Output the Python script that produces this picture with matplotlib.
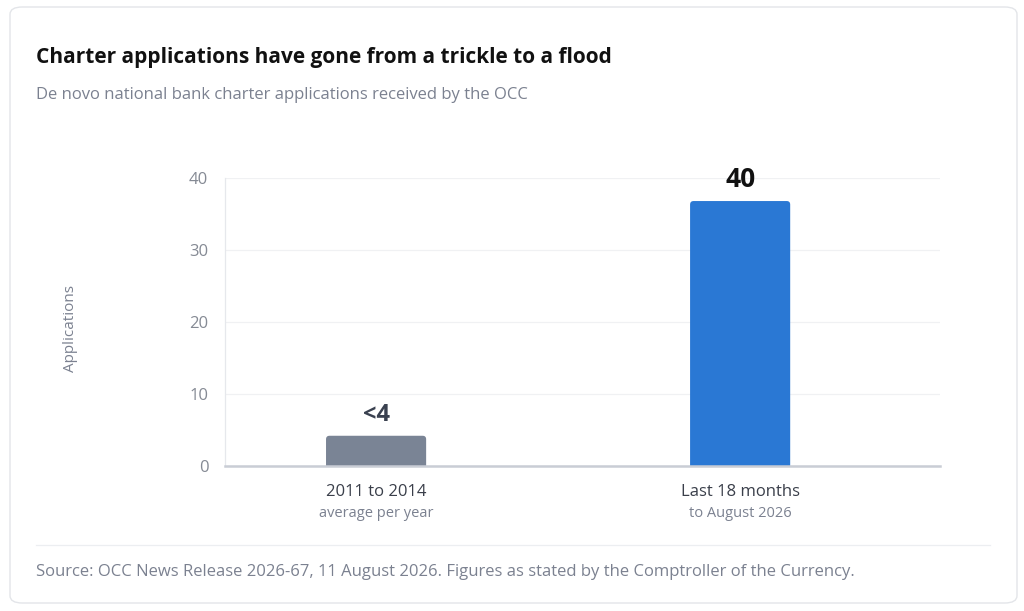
import matplotlib
matplotlib.use("Agg")
import matplotlib.pyplot as plt
from matplotlib.patches import FancyBboxPatch
from matplotlib.lines import Line2D

plt.rcParams['font.family'] = ['Open Sans', 'DejaVu Sans']

# data
categories = ['2011 to 2014', 'Last 18 months']
subtitles = ['average per year', 'to August 2026']
values = [4.2, 36.8]
value_labels = ['<4', '40']
bar_colors = ['#7a8495', '#2a78d4']
label_colors = ['#3a4150', '#111111']
label_sizes = [17, 19]
yticks = [0, 10, 20, 30, 40]

W, H = 1024, 611
fig = plt.figure(figsize=(W / 100, H / 100), dpi=100)
fig.patch.set_facecolor('white')

# card
card = FancyBboxPatch((10 / W, 8 / H), 1007 / W, 596 / H,
                      boxstyle="round,pad=0,rounding_size=0.012",
                      transform=fig.transFigure, facecolor='white',
                      edgecolor='#e3e5e9', linewidth=1.0, zorder=-10)
fig.patches.append(card)

fig.text(36 / W, 1 - 58 / H, 'Charter applications have gone from a trickle to a flood',
         fontsize=15, fontweight='bold', color='#111111', va='center', ha='left')
fig.text(36 / W, 1 - 95 / H, 'De novo national bank charter applications received by the OCC',
         fontsize=12, color='#7b8190', va='center', ha='left')

ax = fig.add_axes([225 / W, 1 - 466 / H, (940 - 225) / W, (466 - 178) / H])
ax.set_facecolor('none')
x = list(range(len(categories)))
bars = ax.bar(x, values, width=0.275, color=bar_colors, zorder=3)

ax.set_ylim(0, 40)
ax.set_xlim(-0.415, 1.549)

# rounded tops: redraw each bar as a rounded box with the same geometry
px_x = (1.549 + 0.415) / (940 - 225)
px_y = 40 / (466 - 178)
for b, col in zip(bars, bar_colors):
    b.set_visible(False)
    rb = FancyBboxPatch((b.get_x(), -1), b.get_width(), b.get_height() + 1,
                        boxstyle=f"round,pad=0,rounding_size={3.5 * px_x}",
                        mutation_aspect=px_y / px_x,
                        facecolor=col, edgecolor='none', zorder=3)
    ax.add_patch(rb)

ax.set_yticks(yticks)
ax.set_yticklabels([str(t) for t in yticks])
ax.tick_params(axis='y', length=0, pad=12, labelsize=12, labelcolor='#858a94')
ax.set_xticks(x)
ax.set_xticklabels([])
ax.tick_params(axis='x', length=0)
ax.grid(axis='y', color='#f0f1f3', linewidth=0.9, zorder=0)

for s in ['top', 'right']:
    ax.spines[s].set_visible(False)
ax.spines['left'].set_color('#e6e8ec')
ax.spines['left'].set_linewidth(0.9)
ax.spines['bottom'].set_color('#c9cdd5')
ax.spines['bottom'].set_linewidth(1.8)
ax.spines['bottom'].set_zorder(4)

for xi, b, lab, col, sz in zip(x, bars, value_labels, label_colors, label_sizes):
    ax.annotate(lab, (xi, b.get_height()), xytext=(0, 6), textcoords='offset points',
                ha='center', va='bottom', fontsize=sz, fontweight='bold', color=col)

for xi, cat, sub in zip(x, categories, subtitles):
    ax.annotate(cat, (xi, 0), xytext=(0, -18.5), textcoords='offset points',
                ha='center', va='center', fontsize=12, color='#3a3f4a')
    ax.annotate(sub, (xi, 0), xytext=(0, -34.5), textcoords='offset points',
                ha='center', va='center', fontsize=10.5, color='#7b8190')

fig.text(70 / W, 1 - 328 / H, 'Applications', rotation=90, fontsize=11,
         color='#7b8190', va='center', ha='center')

fig.lines.append(Line2D([36 / W, 990 / W], [1 - 545 / H, 1 - 545 / H],
                        transform=fig.transFigure, color='#eceef1', linewidth=0.9))
fig.text(36 / W, 1 - 572 / H,
         'Source: OCC News Release 2026-67, 11 August 2026. Figures as stated by the Comptroller of the Currency.',
         fontsize=12, color='#7b8190', va='center', ha='left')

fig.savefig('out.png', dpi=100, facecolor='white')
